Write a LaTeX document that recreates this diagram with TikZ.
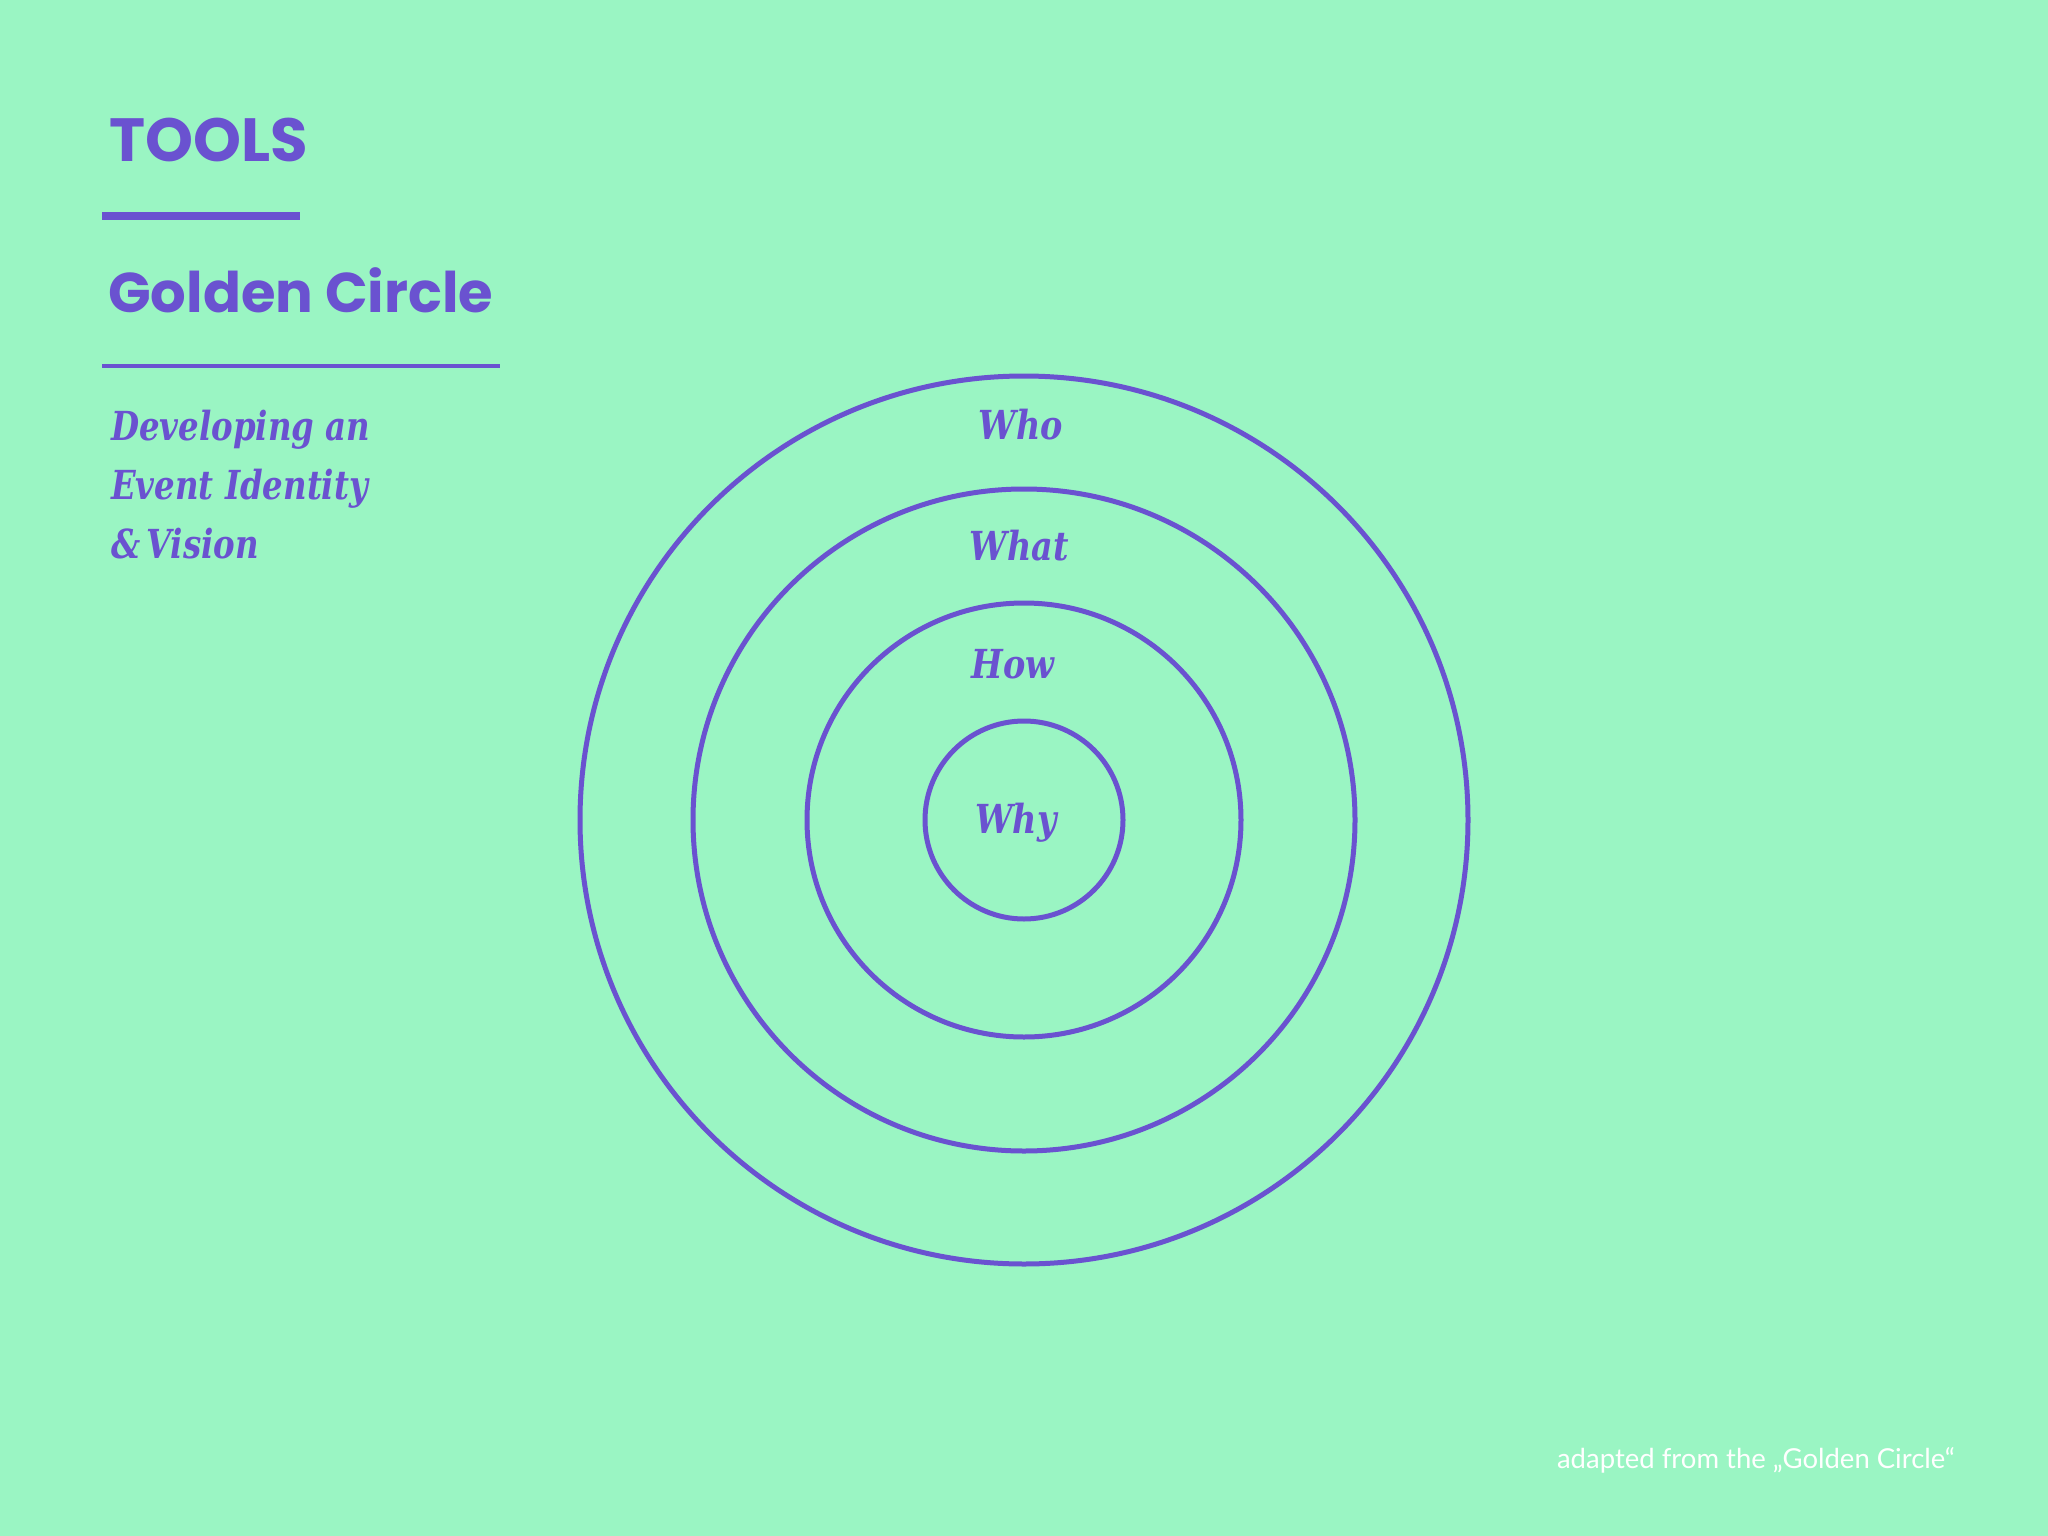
\documentclass[tikz,border=0pt]{standalone}
\usepackage{fontspec}
\usepackage{graphicx}
\setmainfont{DejaVu Serif Condensed}
\newfontfamily\titlefont{Poppins}
\newfontfamily\notefont{Lato}
\definecolor{bgmint}{RGB}{154,245,195}
\definecolor{ink}{RGB}{106,82,208}
\newcommand{\narrowtext}[1]{\scalebox{0.93}[1]{#1}}
\tikzset{
  ring/.style={draw=ink, line width=5pt},
  ringlabel/.style={anchor=base, inner sep=0pt, text=ink, font=\fontsize{40}{40}\selectfont\itshape\bfseries},
  sublabel/.style={anchor=base west, inner sep=0pt, text=ink, font=\fontsize{40}{40}\selectfont\itshape\bfseries},
  heading/.style={anchor=base west, inner sep=0pt, text=ink, font=\titlefont\bfseries},
  rule/.style={draw=ink}
}
\begin{document}
\begin{tikzpicture}[x=1pt,y=-1pt]
\fill[bgmint] (0,0) rectangle (2048,1536);
\useasboundingbox (0,0) rectangle (2048,1536);
\node[heading, font=\titlefont\fontsize{61}{61}\selectfont\bfseries] (tools) at (109,161) {TOOLS};
\coordinate (r1a) at (102,216);
\coordinate (r1b) at (300,216);
\draw[rule, line width=7.5pt] (r1a) -- (r1b);
\node[heading, font=\titlefont\fontsize{56}{56}\selectfont\bfseries] (title) at (108,312) {Golden Circle};
\coordinate (r2a) at (102,366);
\coordinate (r2b) at (500,366);
\draw[rule, line width=4pt] (r2a) -- (r2b);
\node[sublabel] (sub1) at (111,440) {\scalebox{0.9}[1]{Developing an}};
\node[sublabel] (sub2) at (111,499) {\scalebox{0.9}[1]{Event Identity}};
\node[sublabel] (sub3) at (111,558) {\scalebox{0.9}[1]{\&\,Vision}};
\coordinate (c) at (1024,820);
\draw[ring] (c) circle[radius=444];
\draw[ring] (c) circle[radius=331];
\draw[ring] (c) circle[radius=217];
\draw[ring] (c) circle[radius=99];
\node[ringlabel] (who) at (1021,439) {\narrowtext{Who}};
\node[ringlabel] (what) at (1019,560) {\narrowtext{What}};
\node[ringlabel] (how) at (1013,678) {\narrowtext{How}};
\node[ringlabel] (why) at (1016,833) {\narrowtext{Why}};
\node[anchor=base east, inner sep=0pt, text=white, font=\notefont\fontsize{27.5}{27.5}\selectfont] (note) at (1955,1468) {adapted from the „Golden Circle“};
\end{tikzpicture}
\end{document}
